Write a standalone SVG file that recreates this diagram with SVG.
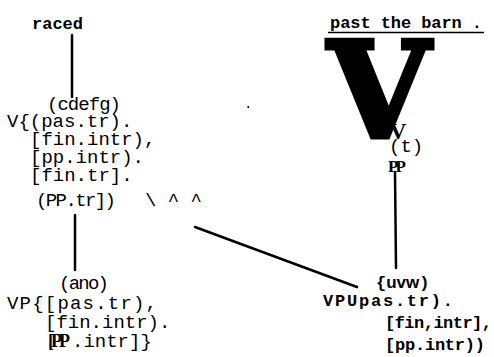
<svg xmlns="http://www.w3.org/2000/svg" width="494" height="357" viewBox="0 0 494 357">
  <style>
    .m  { font-family: "Liberation Mono", "DejaVu Sans Mono", monospace; font-size: 19px; fill: #000; }
    .mb { font-family: "Liberation Mono", "DejaVu Sans Mono", monospace; font-size: 17px; font-weight: bold; fill: #000; }
    .sb { font-family: "Liberation Serif", "DejaVu Serif", serif; font-weight: bold; fill: #000; }
    .ss { font-family: "Liberation Sans", Arial, sans-serif; font-weight: bold; }
    .big { font-family: "DejaVu Serif", "Liberation Serif", serif; font-weight: bold; fill: #000; stroke: #000; stroke-width: 5; stroke-linejoin: miter; }
    .edge { stroke: #000; stroke-width: 2.5; fill: none; stroke-linecap: round; }
  </style>
  <rect width="494" height="357" fill="#fff"/>

  <!-- connectors -->
  <g id="connectors">
    <line class="edge" x1="72" y1="35" x2="72" y2="97"/>
    <line class="edge" x1="75" y1="215" x2="75" y2="270"/>
    <line class="edge" x1="395" y1="172" x2="396" y2="268"/>
    <line class="edge" x1="195" y1="227" x2="357" y2="287"/>
  </g>

  <!-- word: raced -->
  <g id="node-raced">
    <text class="mb" x="32" y="29" font-size="18">raced</text>
  </g>

  <!-- word: past the barn -->
  <g id="node-past">
    <text class="mb" x="330" y="28" font-size="18" textLength="152">past the barn .</text>
    <line x1="328" y1="32.5" x2="484" y2="32.5" stroke="#000" stroke-width="1.5"/>
  </g>

  <!-- category V with its feature set -->
  <g id="node-v">
    <text class="m" x="47" y="110" textLength="74">(cdefg)</text>
    <text class="m" x="7" y="127">V{(pas.tr).</text>
    <text class="m" x="30" y="145">[fin.intr),</text>
    <text class="m" x="30" y="163">[pp.intr).</text>
    <text class="m" x="30" y="181">[fin.tr].</text>
    <text class="m" x="36" y="206" textLength="80">(PP.tr])</text>
    <text class="m" x="145" y="206">\ ^ ^</text>
  </g>

  <!-- category VP on the left -->
  <g id="node-vp-left">
    <text class="m" x="59" y="289" textLength="50">(ano)</text>
    <text class="m" x="7" y="309" textLength="150">VP{[pas.tr),</text>
    <text class="m" x="45" y="328">[fin.intr).</text>
    <text class="m" x="48" y="347"><tspan class="sb" font-size="18" letter-spacing="-3">[PP</tspan><tspan x="72">.intr]}</tspan></text>
  </g>

  <!-- preposition phrase node -->
  <g id="node-pp">
    <text class="big" x="379" y="137" font-size="132" text-anchor="middle">V</text>
    <text class="sb" x="398" y="139" font-size="23" text-anchor="middle">V</text>
    <text class="m" x="389" y="152">(t)</text>
    <text class="sb" x="388" y="172" font-size="17" letter-spacing="-3">PP</text>
  </g>

  <!-- category VP on the right -->
  <g id="node-vp-right">
    <text class="mb" x="376" y="288" font-size="18">{<tspan class="ss">uvw</tspan>)</text>
    <text class="mb" x="323" y="306" textLength="130">VPUpas.tr).</text>
    <text class="mb" x="385" y="328" textLength="107">[fin,intr],</text>
    <text class="mb" x="385" y="350" textLength="100">[pp.intr))</text>
  </g>

  <!-- stray mark -->
  <rect x="247.5" y="106" width="1.5" height="2" fill="#000"/>
</svg>
